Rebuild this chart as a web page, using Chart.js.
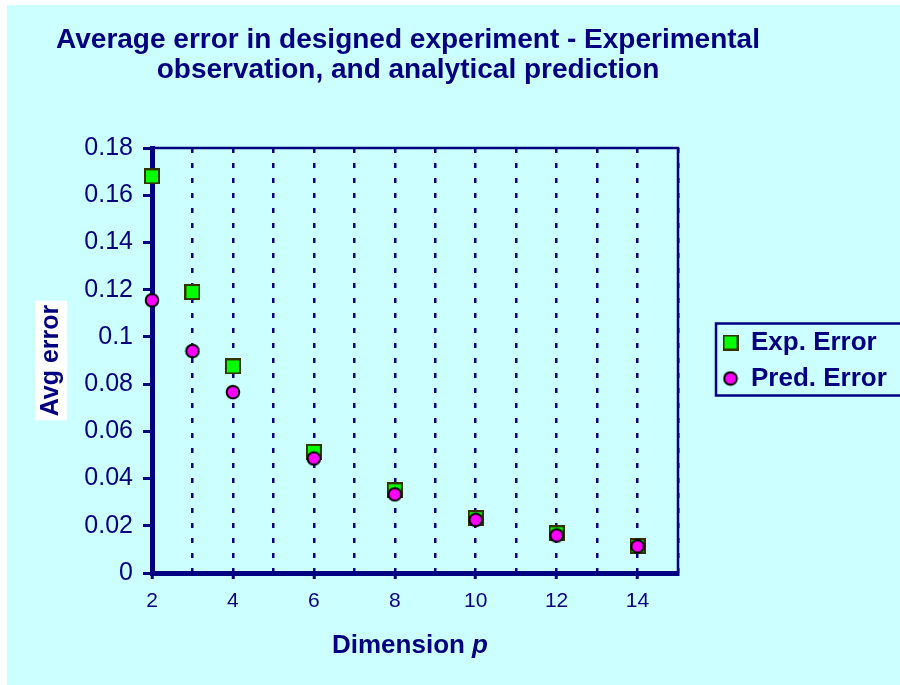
<!DOCTYPE html>
<html>
<head>
<meta charset="utf-8">
<script src="https://cdn.jsdelivr.net/npm/chart.js@4.4.1/dist/chart.umd.min.js"></script>
<style>
  html, body { margin: 0; padding: 0; background: #ffffff; }
  canvas { display: block; }
</style>
</head>
<body>
<canvas id="chart" width="900" height="685"></canvas>
<script>
// DATA
const dims = [2, 3, 4, 6, 8, 10, 12, 14];
const expError = [0.168, 0.119, 0.0875, 0.0513, 0.035, 0.0232, 0.0168, 0.0114];
const predError = [0.1155, 0.094, 0.0766, 0.0485, 0.0333, 0.0225, 0.0159, 0.0113];
const seriesNames = ["Exp. Error", "Pred. Error"];
const xGridValues = [2, 3, 4, 5, 6, 7, 8, 9, 10, 11, 12, 13, 14, 15];
const xTickLabels = [2, 4, 6, 8, 10, 12, 14];
const yTickValues = [0, 0.02, 0.04, 0.06, 0.08, 0.1, 0.12, 0.14, 0.16, 0.18];
const titleLines = ["Average error in designed experiment - Experimental", "observation, and analytical prediction"];
const yTitle = "Avg error";
const xTitle = "Dimension ";
const xTitleVar = "p";

const NAVY = "#000080";
const FONT = "'Liberation Sans', Arial, sans-serif";

// MARKERS
function makeSquare(fill, stroke) {
  const c = document.createElement("canvas");
  c.width = 16; c.height = 16;
  const g = c.getContext("2d");
  g.fillStyle = stroke;
  g.fillRect(0, 0, 16, 16);
  g.fillStyle = fill;
  g.fillRect(2, 2, 12, 12);
  return c;
}

function makeCircle(fill, stroke) {
  const c = document.createElement("canvas");
  c.width = 16; c.height = 16;
  const g = c.getContext("2d");
  g.beginPath();
  g.arc(8, 8, 6.3, 0, Math.PI * 2);
  g.fillStyle = fill;
  g.fill();
  g.lineWidth = 2;
  g.strokeStyle = stroke;
  g.stroke();
  return c;
}

const squareImg = makeSquare("#00ff00", "#333300");
const circleImg = makeCircle("#ff00ff", "#000000");

// EXTRA DRAWING
const decor = {
  id: "decor",
  beforeLayout(chart) {
    const lg = chart.legend;
    if (lg && !lg._patched) {
      const fit = lg.fit.bind(lg);
      lg.fit = function () { fit(); this.width = 222; };
      lg._patched = true;
    }
  },
  afterLayout(chart) {
    chart.legend.left += 35;
    // title is centred a bit left of the plot and may be wider than it
    chart.titleBlock.left = 8;
    chart.titleBlock.right = 808;
  },
  beforeDraw(chart) {
    const ctx = chart.ctx;
    ctx.save();
    ctx.fillStyle = "#ffffff";
    ctx.fillRect(0, 0, chart.width, chart.height);
    ctx.fillStyle = "#ccffff";
    ctx.fillRect(7, 5, chart.width - 7, chart.height - 5);

    // white box behind the y title
    const ys = chart.scales.y;
    ctx.font = "bold 25px " + FONT;
    const w = ctx.measureText(yTitle).width;
    const cx = ys.left + 6 + 15;
    const cy = (ys.top + ys.bottom) / 2;
    ctx.fillStyle = "#ffffff";
    ctx.fillRect(cx - 16, cy - w / 2 - 4, 32, w + 8);
    ctx.restore();
  },
  beforeDatasetsDraw(chart) {
    const ctx = chart.ctx;
    const a = chart.chartArea;
    ctx.save();
    ctx.strokeStyle = NAVY;
    ctx.lineWidth = 2.5;
    ctx.beginPath();
    ctx.moveTo(a.left, a.top);
    ctx.lineTo(a.right, a.top);
    ctx.lineTo(a.right, a.bottom);
    ctx.stroke();
    ctx.restore();
  },
  afterDraw(chart) {
    const ctx = chart.ctx;
    const a = chart.chartArea;
    ctx.save();

    // x axis title with italic p
    ctx.fillStyle = NAVY;
    ctx.textBaseline = "alphabetic";
    ctx.font = "bold 26px " + FONT;
    const w1 = ctx.measureText(xTitle).width;
    ctx.font = "italic bold 26px " + FONT;
    const w2 = ctx.measureText(xTitleVar).width;
    const x0 = (a.left + a.right) / 2 - 5 - (w1 + w2) / 2;
    ctx.font = "bold 26px " + FONT;
    ctx.fillText(xTitle, x0, 653);
    ctx.font = "italic bold 26px " + FONT;
    ctx.fillText(xTitleVar, x0 + w1, 653);

    // legend frame
    const hb = chart.legend.legendHitBoxes;
    if (hb && hb.length) {
      const l = hb[0].left - 7;
      const t = hb[0].top - 6;
      const b = hb[hb.length - 1].top + hb[hb.length - 1].height + 4;
      ctx.strokeStyle = NAVY;
      ctx.lineWidth = 2.5;
      ctx.strokeRect(l, t, chart.width - l + 10, b - t);
    }
    ctx.restore();
  }
};

new Chart(document.getElementById("chart"), {
  type: "scatter",
  data: {
    datasets: [
      {
        label: seriesNames[0],
        data: dims.map((x, i) => ({ x: x, y: expError[i] })),
        pointStyle: squareImg,
        pointRadius: 8,
        clip: false,
        order: 1
      },
      {
        label: seriesNames[1],
        data: dims.map((x, i) => ({ x: x, y: predError[i] })),
        pointStyle: circleImg,
        pointRadius: 8,
        clip: false,
        order: 0
      }
    ]
  },
  options: {
    responsive: false,
    animation: false,
    devicePixelRatio: 1,
    layout: { padding: { left: 30, top: 0, right: 0, bottom: 0 } },
    plugins: {
      title: {
        display: true,
        text: titleLines,
        fullSize: false,
        color: NAVY,
        font: { family: FONT, size: 28, weight: "bold", lineHeight: 30 / 28 },
        padding: { top: 25, bottom: 63 }
      },
      legend: {
        position: "right",
        fullSize: false,
        align: "center",
        labels: {
          usePointStyle: true,
          boxWidth: 15,
          boxHeight: 15,
          padding: 10,
          color: NAVY,
          font: { family: FONT, size: 26, weight: "bold" },
          sort: (a, b) => a.datasetIndex - b.datasetIndex
        }
      },
      tooltip: { enabled: false }
    },
    scales: {
      x: {
        type: "linear",
        position: "bottom",
        min: 2,
        max: 15,
        afterBuildTicks: s => { s.ticks = xGridValues.map(v => ({ value: v })); },
        afterFit: s => { s.height = 112; },
        grid: {
          color: c => (c.tick && c.tick.value > 2 ? NAVY : "rgba(0,0,0,0)"),
          lineWidth: 2.5,
          drawTicks: true,
          tickLength: 6,
          tickWidth: 3,
          tickBorderDash: [],
          tickColor: c => (c.tick && xTickLabels.includes(c.tick.value) ? NAVY : "rgba(0,0,0,0)")
        },
        border: { display: true, color: NAVY, width: 5, dash: [5, 10] },
        ticks: {
          autoSkip: false,
          maxRotation: 0,
          color: NAVY,
          padding: 10,
          font: { family: FONT, size: 21 },
          callback: v => (xTickLabels.includes(v) ? String(v) : "")
        }
      },
      y: {
        type: "linear",
        min: 0,
        max: 0.18,
        afterBuildTicks: s => { s.ticks = yTickValues.map(v => ({ value: v })); },
        afterFit: s => { s.width = 122; },
        grid: {
          drawOnChartArea: false,
          drawTicks: true,
          tickLength: 9,
          tickWidth: 3,
          tickColor: NAVY
        },
        border: { display: true, color: NAVY, width: 5 },
        title: {
          display: true,
          text: yTitle,
          color: NAVY,
          font: { family: FONT, size: 25, weight: "bold" },
          padding: { top: 6, bottom: 0 }
        },
        ticks: {
          color: NAVY,
          padding: 10,
          font: { family: FONT, size: 25 },
          callback: v => String(+v.toFixed(2))
        }
      }
    }
  },
  plugins: [decor]
});
</script>
</body>
</html>
